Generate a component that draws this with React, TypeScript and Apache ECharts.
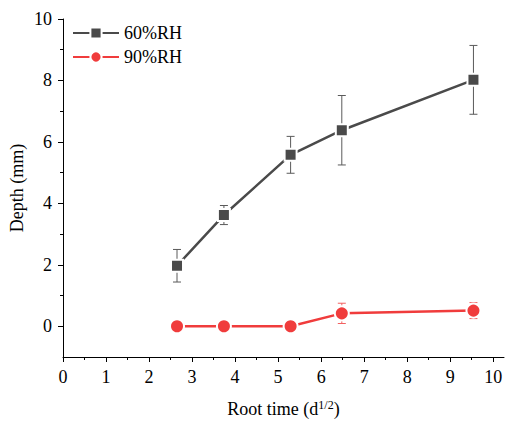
import React, { useEffect, useRef } from "react";
import * as echarts from "echarts";

const rootTime = [2.65, 3.74, 5.29, 6.48, 9.54];
const depth60 = [1.97, 3.62, 5.58, 6.38, 8.02];
const err60 = [0.53, 0.31, 0.6, 1.13, 1.12];
const depth90 = [0.0, 0.0, 0.0, 0.42, 0.51];
const err90 = [0, 0, 0, 0.33, 0.26];
const yLabels = [0, 2, 4, 6, 8, 10];
const yMinor = [1, 3, 5, 7, 9];
const xLabels = [0, 1, 2, 3, 4, 5, 6, 7, 8, 9, 10];
const xMinor = [0.5, 1.5, 2.5, 3.5, 4.5, 5.5, 6.5, 7.5, 8.5, 9.5];

const FONT = "Liberation Serif";
const C60 = "#4a4a4a";
const C90 = "#f03c3c";

function errSeries(name: string, ys: number[], es: number[], color: string) {
  return {
    type: "custom",
    name: name + "_err",
    xAxisIndex: 0,
    yAxisIndex: 0,
    z: 1,
    silent: true,
    data: rootTime.map((x, i) => [x, ys[i] - es[i], ys[i] + es[i]]),
    renderItem: (params: any, api: any) => {
      const x = api.value(0);
      const lo = api.coord([x, api.value(1)]);
      const hi = api.coord([x, api.value(2)]);
      const hw = 4;
      const style = { stroke: color, lineWidth: 1 };
      return {
        type: "group",
        children: [
          { type: "line", shape: { x1: lo[0], y1: lo[1], x2: hi[0], y2: hi[1] }, style },
          { type: "line", shape: { x1: lo[0] - hw, y1: lo[1], x2: lo[0] + hw, y2: lo[1] }, style },
          { type: "line", shape: { x1: hi[0] - hw, y1: hi[1], x2: hi[0] + hw, y2: hi[1] }, style },
        ],
      };
    },
  };
}

export default function App() {
  const ref = useRef<HTMLDivElement>(null);
  useEffect(() => {
    if (!ref.current) return;
    const chart = echarts.init(ref.current, null, { renderer: "svg" });
    const axisLine = { show: true, onZero: false, lineStyle: { color: "#000", width: 1 } };
    chart.setOption({
      animation: false,
      backgroundColor: "#fff",
      textStyle: { fontFamily: FONT },
      grid: { left: 63, right: 9, top: 19, bottom: 66, containLabel: false, outerBoundsMode: "none" },
      legend: {
        orient: "vertical",
        left: 67,
        top: 19,
        itemWidth: 46,
        itemHeight: 14,
        itemGap: 6,
        textStyle: { fontFamily: FONT, fontSize: 18, color: "#000" },
        data: ["60%RH", "90%RH"],
      },
      xAxis: [
        {
          type: "value",
          min: 0,
          max: 10.25,
          name: "Root time (d{sup|1/2})",
          nameLocation: "middle",
          nameGap: 42,
          nameTextStyle: {
            fontFamily: FONT,
            fontSize: 18,
            color: "#000",
            rich: { sup: { fontFamily: FONT, fontSize: 12, verticalAlign: "top", padding: [0, 0, 8, 0] } },
          },
          axisLine,
          splitLine: { show: false },
          axisTick: { show: true, inside: false, length: 5, customValues: xLabels, lineStyle: { color: "#000" } },
          axisLabel: { customValues: xLabels, fontFamily: FONT, fontSize: 18, color: "#000", margin: 11 },
        },
        {
          type: "value",
          min: 0,
          max: 10.25,
          position: "bottom",
          axisLine: { show: false, onZero: false },
          splitLine: { show: false },
          axisTick: { show: true, inside: false, length: 3, customValues: xMinor, lineStyle: { color: "#000" } },
          axisLabel: { show: false },
        },
      ],
      yAxis: [
        {
          type: "value",
          min: -1,
          max: 10,
          name: "Depth (mm)",
          nameLocation: "middle",
          nameGap: 37,
          nameMoveOverlap: false,
          nameRotate: 90,
          nameTextStyle: { fontFamily: FONT, fontSize: 18, color: "#000" },
          axisLine,
          splitLine: { show: false },
          axisTick: { show: true, inside: false, length: 5, customValues: yLabels, lineStyle: { color: "#000" } },
          axisLabel: { customValues: yLabels, fontFamily: FONT, fontSize: 18, color: "#000", margin: 11 },
        },
        {
          type: "value",
          min: -1,
          max: 10,
          position: "left",
          axisLine: { show: false, onZero: false },
          splitLine: { show: false },
          axisTick: { show: true, inside: false, length: 3, customValues: yMinor, lineStyle: { color: "#000" } },
          axisLabel: { show: false },
        },
      ],
      series: [
        errSeries("60%RH", depth60, err60, "#5a5a5a"),
        errSeries("90%RH", depth90, err90, "#f26060"),
        {
          type: "line",
          name: "60%RH",
          z: 3,
          data: rootTime.map((x, i) => [x, depth60[i]]),
          symbol: "rect",
          symbolSize: 12,
          lineStyle: { color: C60, width: 2.5 },
          itemStyle: { color: C60, borderColor: "#fff", borderWidth: 2 },
        },
        {
          type: "line",
          name: "90%RH",
          z: 3,
          data: rootTime.map((x, i) => [x, depth90[i]]),
          symbol: "circle",
          symbolSize: 14,
          lineStyle: { color: C90, width: 2.5 },
          itemStyle: { color: C90, borderColor: "#fff", borderWidth: 2 },
        },
      ],
    });
    return () => chart.dispose();
  }, []);
  return <div ref={ref} style={{ width: 513, height: 423, position: "absolute", left: 0, top: 0 }} />;
}
